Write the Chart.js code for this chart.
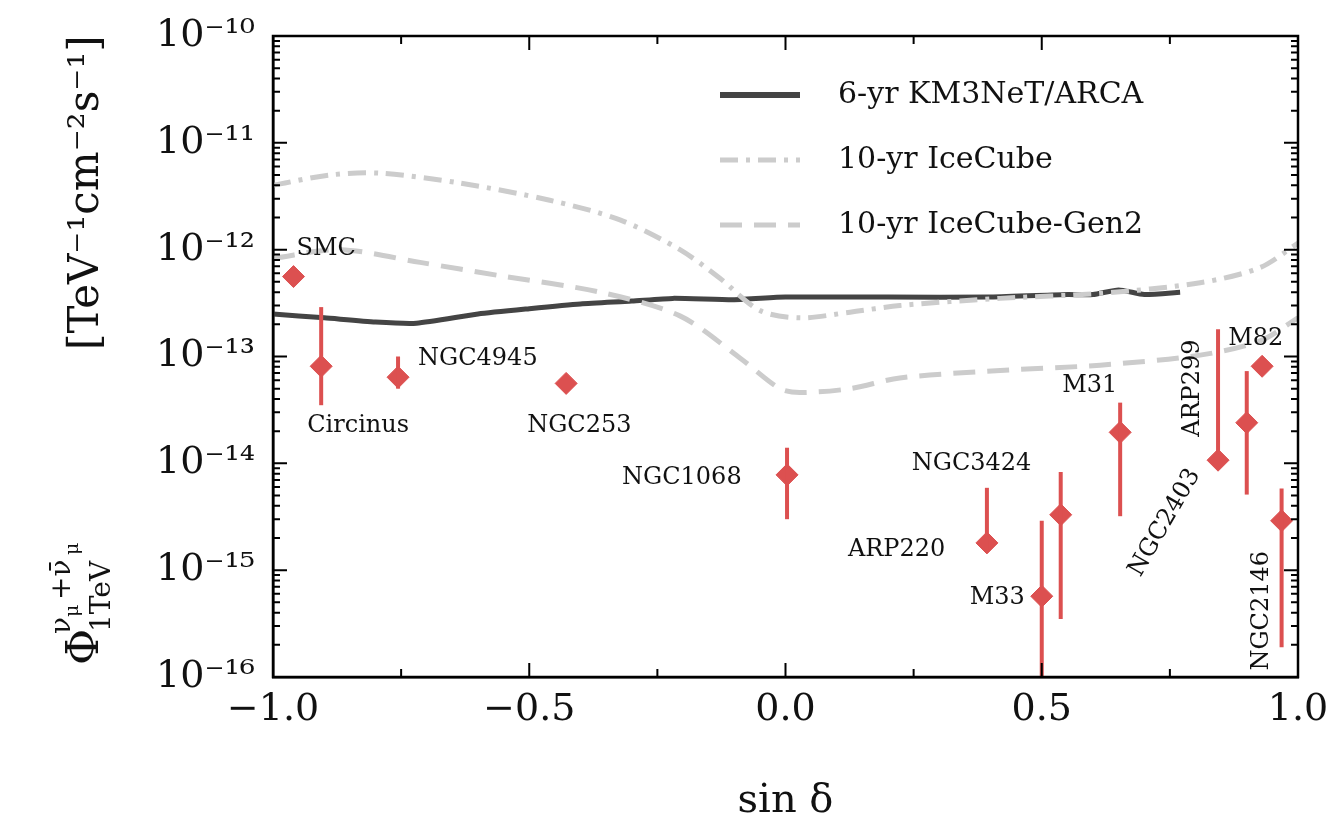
<!DOCTYPE html>
<html><head><meta charset="utf-8">
<script src="https://cdn.jsdelivr.net/npm/chart.js@4"></script>
<style>body{margin:0;background:#fff}canvas{display:block}</style>
</head><body>
<canvas id="c" width="1326" height="832"></canvas>
<script>
// sensitivity curves (sin delta, flux)
const KM3_X   = [-1,-0.9,-0.8,-0.72,-0.6,-0.5,-0.4,-0.3,-0.22,-0.1,0,0.2,0.4,0.55,0.6,0.65,0.7,0.77];
const KM3_Y   = [2.5e-13,2.3e-13,2.1e-13,2.05e-13,2.5e-13,2.8e-13,3.1e-13,3.3e-13,3.5e-13,3.4e-13,3.6e-13,3.6e-13,3.6e-13,3.8e-13,3.8e-13,4.2e-13,3.8e-13,4.0e-13];
const IC_X    = [-1,-0.889,-0.791,-0.635,-0.46,-0.323,-0.206,-0.128,-0.05,0.028,0.126,0.223,0.419,0.614,0.809,0.926,1];
const IC_Y    = [4.0e-12,5.0e-12,5.2e-12,4.2e-12,2.9e-12,1.9e-12,1.0e-12,5.4e-13,2.7e-13,2.3e-13,2.6e-13,3.0e-13,3.5e-13,3.9e-13,4.9e-13,6.8e-13,1.15e-12];
const GEN2_X  = [-1,-0.869,-0.713,-0.557,-0.362,-0.206,-0.089,-0.011,0.028,0.126,0.223,0.419,0.614,0.809,0.926,1];
const GEN2_Y  = [8.3e-13,1.0e-12,7.6e-13,5.7e-13,4.0e-13,2.4e-13,9.7e-14,5.0e-14,4.6e-14,5.0e-14,6.3e-14,7.4e-14,8.3e-14,1.03e-13,1.4e-13,2.3e-13];

// sources
const SRC_NAMES = ['SMC','Circinus','NGC4945','NGC253','NGC1068','ARP220','M33','NGC3424','M31','ARP299','NGC2403','M82','NGC2146'];
const SRC_X     = [-0.96,-0.906,-0.756,-0.428,0.003,0.393,0.50,0.537,0.653,0.844,0.90,0.93,0.968];
const SRC_Y     = [5.6e-13,8.1e-14,6.4e-14,5.6e-14,7.8e-15,1.8e-15,5.7e-16,3.3e-15,1.95e-14,1.07e-14,2.4e-14,8.1e-14,2.9e-15];
const SRC_HI    = [null,2.9e-13,1.0e-13,null,1.4e-14,5.9e-15,2.9e-15,8.3e-15,3.7e-14,1.8e-13,7.3e-14,null,5.8e-15];
const SRC_LO    = [null,3.5e-14,5.0e-14,null,3.0e-15,1.5e-15,1.0e-16,3.5e-16,3.2e-15,1.07e-14,5.1e-15,null,1.9e-16];

const X_TICKS = [-1,-0.5,0,0.5,1];
const LEGEND = ['6-yr KM3NeT/ARCA','10-yr IceCube','10-yr IceCube-Gen2'];

// label placement: [dx, dy, rotation deg, align] relative to point pixel
const LABEL_POS = {
  SMC:[3,-28,0,'left'], Circinus:[-14,59,0,'left'], NGC4945:[20,-18,0,'left'], NGC253:[-39,42,0,'left'],
  NGC1068:[-165,3,0,'left'], ARP220:[-139,7,0,'left'], M33:[-72,2,0,'left'], NGC3424:[-149,-51,0,'left'],
  M31:[-58,-47,0,'left'], ARP299:[-25,-72,-90,'center'], NGC2403:[-82,100,-60,'center'],
  M82:[-34,-28,0,'left'], NGC2146:[-20,90,-90,'center']
};

const RED = '#dc5050';
const SERIF = '"DejaVu Serif", "Liberation Serif", serif';
const pts = (xs, ys) => xs.map((x,i)=>({x, y: ys[i]}));
const sup = {'-':'⁻','0':'⁰','1':'¹','2':'²','3':'³','4':'⁴','5':'⁵','6':'⁶','7':'⁷','8':'⁸','9':'⁹'};

const extras = {
  id:'extras',
  afterDatasetsDraw(chart){
    const {ctx, scales:{x,y}, chartArea:a} = chart;
    ctx.save();
    // error bars
    ctx.strokeStyle = RED; ctx.lineWidth = 4;
    SRC_X.forEach((sx,i)=>{
      if(SRC_HI[i]==null) return;
      const px = x.getPixelForValue(sx), y1 = y.getPixelForValue(SRC_HI[i]), y2 = y.getPixelForValue(SRC_LO[i]);
      ctx.beginPath(); ctx.moveTo(px,y1); ctx.lineTo(px,y2); ctx.stroke();
    });
    // source labels
    ctx.fillStyle = '#111'; ctx.font = '24px '+SERIF; ctx.textBaseline = 'middle';
    SRC_NAMES.forEach((n,i)=>{
      const [dx,dy,rot,al] = LABEL_POS[n];
      const px = x.getPixelForValue(SRC_X[i]) + dx, py = y.getPixelForValue(SRC_Y[i]) + dy;
      ctx.save(); ctx.translate(px,py); ctx.rotate(rot*Math.PI/180); ctx.textAlign = al;
      ctx.fillText(n,0,0); ctx.restore();
    });
    // x tick labels
    ctx.font = '38px '+SERIF; ctx.textAlign = 'center'; ctx.textBaseline = 'top';
    X_TICKS.forEach(v => ctx.fillText(v.toFixed(1).replace('-','−'), x.getPixelForValue(v), a.bottom + 14));
    ctx.textBaseline = 'middle';
    // frame + inward ticks
    ctx.strokeStyle = '#000'; ctx.lineWidth = 2.5;
    ctx.strokeRect(a.left, a.top, a.right-a.left, a.bottom-a.top);
    ctx.lineWidth = 2;
    ctx.beginPath();
    for(let v=-1; v<=1.0001; v+=0.25){
      const px = x.getPixelForValue(v), L = (Math.abs(v*2-Math.round(v*2))<1e-6) ? 14 : 8;
      ctx.moveTo(px,a.bottom); ctx.lineTo(px,a.bottom-L); ctx.moveTo(px,a.top); ctx.lineTo(px,a.top+L);
    }
    for(let e=-16; e<=-10; e++){
      for(let m=1; m<10; m++){
        if(e===-10 && m>1) break;
        const py = y.getPixelForValue(m*Math.pow(10,e)), L = m===1 ? 14 : 7;
        ctx.moveTo(a.left,py); ctx.lineTo(a.left+L,py); ctx.moveTo(a.right,py); ctx.lineTo(a.right-L,py);
      }
    }
    ctx.stroke();
    // legend
    const styles = [['#444',[],6],['#ccc',[18,8,4,8],5],['#ccc',[22,12],5]];
    LEGEND.forEach((t,i)=>{
      const ly = 95 + i*65;
      ctx.strokeStyle = styles[i][0]; ctx.setLineDash(styles[i][1]); ctx.lineWidth = styles[i][2];
      ctx.beginPath(); ctx.moveTo(720,ly); ctx.lineTo(800,ly); ctx.stroke();
      ctx.setLineDash([]); ctx.fillStyle = '#111'; ctx.font = '30px '+SERIF; ctx.textAlign = 'left';
      ctx.fillText(t, 838, ly);
    });
    // y title
    ctx.rotate(-Math.PI/2); ctx.textAlign='left'; ctx.textBaseline='alphabetic';
    ctx.font = '42px '+SERIF; ctx.fillText('[TeV⁻¹cm⁻²s⁻¹]', -350, 98);
    ctx.font = '44px '+SERIF; ctx.fillText('Φ', -665, 98);
    ctx.font = '28px '+SERIF; ctx.fillText('1TeV', -632, 110);
    ctx.fillText('ν', -634, 70); ctx.fillText('+ν̄', -600, 70);
    ctx.font = '19px '+SERIF; ctx.fillText('μ', -617, 78); ctx.fillText('μ', -555, 78);
    ctx.restore();
    // x title
    ctx.save(); ctx.fillStyle='#111'; ctx.font = '40px '+SERIF; ctx.textAlign='center';
    ctx.fillText('sin δ', (a.left+a.right)/2, 812); ctx.restore();
  }
};

new Chart(document.getElementById('c'), {
  type:'scatter',
  data:{datasets:[
    {data:pts(IC_X,IC_Y), showLine:true, borderColor:'#cccccc', borderWidth:5, borderDash:[18,8,4,8], pointRadius:0, tension:0.3},
    {data:pts(GEN2_X,GEN2_Y), showLine:true, borderColor:'#cccccc', borderWidth:5, borderDash:[22,12], pointRadius:0, tension:0.3},
    {data:pts(KM3_X,KM3_Y), showLine:true, borderColor:'#444444', borderWidth:5, pointRadius:0, tension:0.2},
    {data:pts(SRC_X,SRC_Y), pointStyle:'rectRot', pointRadius:11, backgroundColor:RED, borderColor:RED}
  ]},
  options:{
    responsive:false, devicePixelRatio:1, animation:false,
    layout:{padding:{top:36,right:28,left:0,bottom:0}},
    plugins:{legend:{display:false}, tooltip:{enabled:false}},
    scales:{
      x:{type:'linear', min:-1, max:1,
        afterBuildTicks: s => { s.ticks = X_TICKS.map(v=>({value:v})); },
        afterFit: s => { s.height = 155; },
        grid:{display:false}, border:{color:'#000', width:2.5},
        ticks:{display:false}},
      y:{type:'logarithmic', min:1e-16, max:1e-10,
        afterBuildTicks: s => { s.ticks = [-16,-15,-14,-13,-12,-11,-10].map(e=>({value:Math.pow(10,e)})); },
        afterFit: s => { s.width = 273; },
        grid:{display:false}, border:{color:'#000', width:2.5},
        ticks:{font:{size:38, family:SERIF}, color:'#111', padding:10,
          callback:v=>'10'+String(Math.round(Math.log10(v))).split('').map(c=>sup[c]).join('')}}
    }
  },
  plugins:[extras]
});
</script>
</body></html>
